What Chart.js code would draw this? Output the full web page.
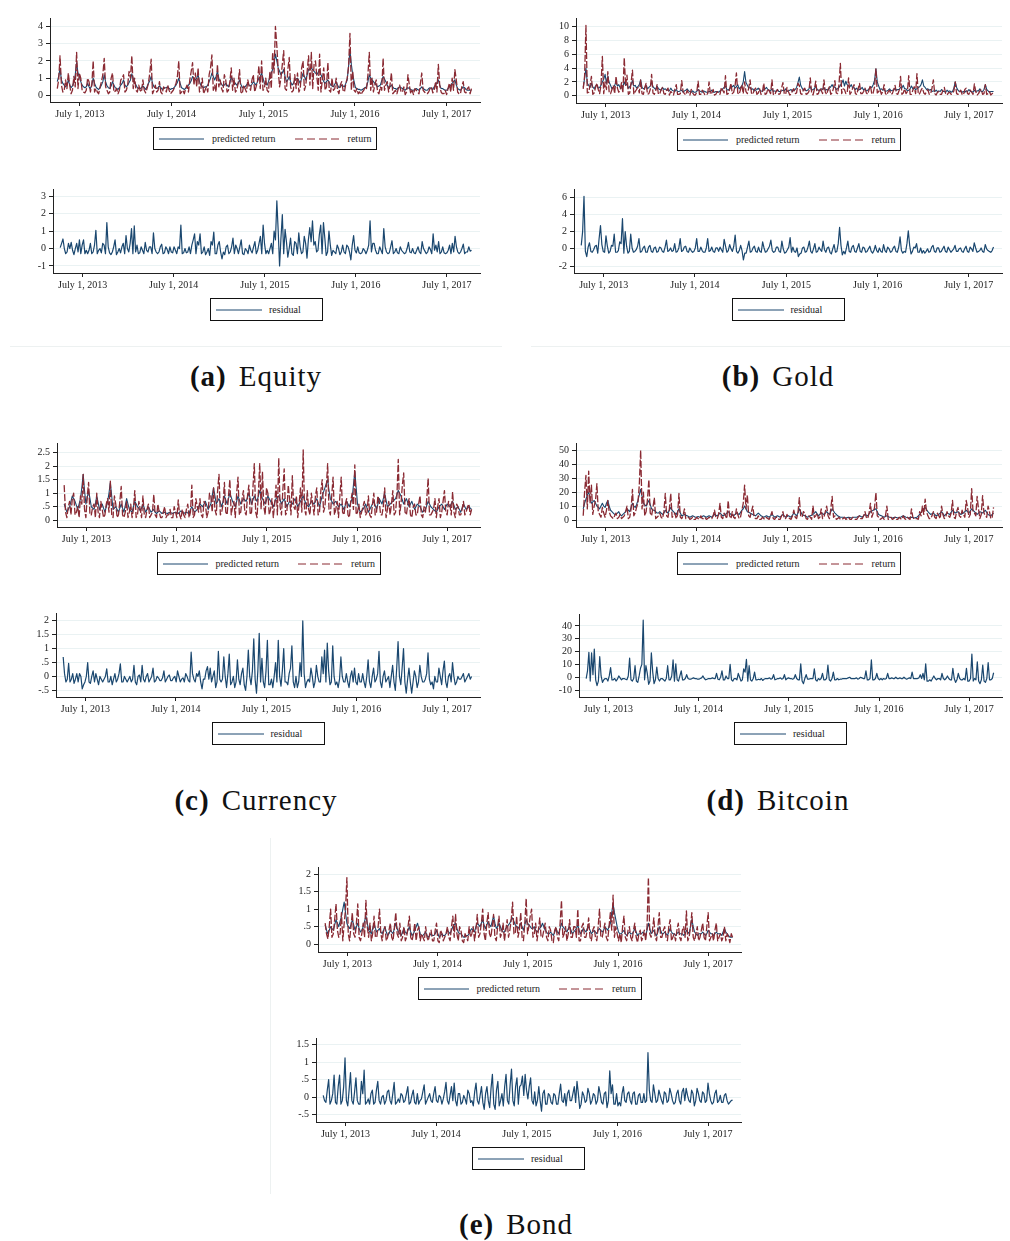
<!DOCTYPE html>
<html>
<head>
<meta charset="utf-8">
<script src="https://cdn.jsdelivr.net/npm/chart.js@4.4.1/dist/chart.umd.min.js"></script>
<style>
body{margin:0;background:#fff;width:1010px;height:1241px;position:relative;overflow:hidden;font-family:"Liberation Serif",serif;}
canvas{position:absolute;}
.lg{position:absolute;border:1px solid #111;box-sizing:border-box;display:flex;align-items:center;font-size:10px;color:#222;white-space:nowrap;background:#fff}
.lg svg{display:block}
.cap{position:absolute;width:300px;text-align:center;font-size:29px;line-height:34px;letter-spacing:1px;color:#111}
.cap b{margin-right:12px}
.sep{position:absolute;background:#edf1f1}
</style>
</head>
<body>
<div class="sep" style="left:10px;top:346px;width:492px;height:1px"></div>
<div class="sep" style="left:531px;top:346px;width:479px;height:1px"></div>
<div class="sep" style="left:270px;top:838px;width:1px;height:356px"></div>

<div class="cap" style="left:106px;top:359px"><b>(a)</b>Equity</div>
<div class="cap" style="left:628px;top:359px"><b>(b)</b>Gold</div>
<div class="cap" style="left:106px;top:783px"><b>(c)</b>Currency</div>
<div class="cap" style="left:628px;top:783px"><b>(d)</b>Bitcoin</div>
<div class="cap" style="left:366px;top:1207px"><b>(e)</b>Bond</div>

<script>
// sample dates: days since July 1, 2013; "Mid" arrays sit half a step after each main point
const dayStart = -90, dayStep = 11;
const xTickDays = [0, 365, 731, 1096, 1461];
const xTickLabels = ["July 1, 2013", "July 1, 2014", "July 1, 2015", "July 1, 2016", "July 1, 2017"];

// Equity
const eqPred = [0.8,1.55,0.7,0.5,0.9,0.45,0.75,1.9,1.1,0.6,
  0.45,0.7,0.4,1.0,0.5,0.35,0.6,1.2,0.55,0.4,
  0.8,0.45,0.35,0.6,0.9,0.5,0.75,1.25,0.8,0.45,
  0.4,0.55,0.35,0.7,1.1,0.5,0.4,0.55,0.35,0.45,
  0.5,0.35,0.4,0.6,1.0,0.45,0.35,0.5,0.7,1.1,
  0.9,1.2,0.6,0.45,0.5,0.8,1.3,0.9,1.4,0.8,
  0.55,0.7,0.5,1.1,0.8,0.6,0.9,0.45,0.5,0.7,
  0.55,0.8,0.6,1.0,1.3,0.7,0.6,1.1,1.5,2.4,
  1.6,1.2,1.5,0.8,1.1,0.6,0.9,1.0,0.7,1.3,
  0.9,1.5,1.6,1.4,1.2,1.5,1.0,0.7,0.9,0.6,
  0.5,0.8,0.45,0.6,0.5,0.9,2.6,1.2,0.45,0.35,
  0.3,0.4,0.5,1.2,0.9,0.7,0.5,0.6,1.1,0.8,
  0.45,0.6,0.4,0.35,0.5,0.4,0.3,0.45,0.35,0.3,
  0.4,0.3,0.5,0.35,0.3,0.45,0.35,0.6,0.9,0.4,
  0.35,0.3,0.5,0.7,0.9,0.4,0.3,0.5,0.35,0.3,0.3];
const eqPredMid = [1.1,0.9,0.6,0.6,0.6,0.55,1.2,1.3,0.8,0.5,
  0.5,0.5,0.6,0.7,0.4,0.45,0.8,0.8,0.45,0.55,
  0.6,0.4,0.45,0.7,0.6,0.6,0.9,1.0,0.6,0.4,
  0.45,0.45,0.5,0.85,0.7,0.45,0.45,0.45,0.4,0.45,
  0.4,0.4,0.5,0.75,0.7,0.4,0.4,0.6,0.85,1.0,
  1.0,0.8,0.5,0.5,0.6,1.0,1.1,1.1,1.0,0.65,
  0.6,0.6,0.7,0.9,0.7,0.7,0.65,0.5,0.6,0.6,
  0.65,0.7,0.8,1.1,1.0,0.65,0.8,1.3,1.9,2.0,
  1.4,1.3,1.1,0.9,0.8,0.7,0.95,0.85,1.0,1.1,
  1.2,1.55,1.5,1.3,1.35,1.2,0.8,0.8,0.75,0.55,
  0.65,0.6,0.5,0.55,0.7,1.7,1.8,0.8,0.4,0.35,
  0.35,0.45,0.8,1.0,0.8,0.6,0.55,0.85,0.95,0.6,
  0.5,0.5,0.4,0.45,0.45,0.35,0.4,0.4,0.3,0.35,
  0.35,0.4,0.4,0.3,0.4,0.4,0.5,0.75,0.6,0.4,
  0.3,0.4,0.6,0.8,0.6,0.35,0.4,0.45,0.3,0.3];
const eqRet = [0.4,2.3,0.2,0.9,1.3,0.1,1.1,2.5,1.3,0.3,
  0.15,1.0,0.2,2.0,0.4,0.1,0.8,2.15,0.3,0.2,
  1.3,0.25,0.1,0.9,1.2,0.3,1.4,2.3,1.0,0.2,
  0.3,0.9,0.15,0.7,2.1,0.3,0.2,0.8,0.1,0.4,
  0.6,0.1,0.3,0.7,2.0,0.2,0.1,0.6,0.9,1.9,
  1.3,1.6,0.4,0.1,0.5,1.2,2.35,0.6,1.8,0.9,
  0.2,0.9,0.3,1.6,1.0,0.3,1.5,0.1,0.4,0.9,
  0.3,1.2,0.5,1.7,2.0,0.4,0.3,1.4,2.5,4.0,
  1.5,1.0,2.6,0.3,2.2,0.2,1.2,1.3,0.4,2.0,
  0.6,2.3,2.5,1.8,1.1,2.4,0.9,0.3,1.9,0.2,
  0.3,1.0,0.1,0.8,0.2,1.0,3.6,1.4,0.2,0.1,
  0.05,0.3,0.4,2.5,1.0,0.6,0.2,0.5,2.15,0.6,
  0.2,1.3,0.2,0.1,0.6,0.2,0.05,1.2,0.1,0.05,
  0.3,0.1,1.3,0.2,0.1,0.4,0.15,0.8,1.8,0.2,
  0.1,0.05,0.7,1.0,1.5,0.2,0.1,0.8,0.15,0.5,0.4];
const eqRetMid = [0.9,0.6,0.3,0.4,0.6,0.3,0.5,0.4,1.0,0.2,
  0.3,0.8,0.6,0.2,0.2,0.5,1.2,0.5,0.1,1.0,
  0.2,0.4,0.3,1.0,0.2,0.6,1.0,0.4,0.3,0.6,
  0.2,0.3,0.4,1.3,0.1,0.6,0.3,0.2,0.5,0.2,
  0.3,0.2,0.5,1.1,0.1,0.3,0.4,0.2,1.4,0.6,
  0.5,0.2,1.0,0.3,0.2,1.6,0.3,0.2,0.5,0.4,
  1.2,0.2,0.8,0.3,0.2,0.7,0.2,0.6,0.2,0.5,
  0.9,0.2,0.8,0.4,0.3,1.0,0.2,0.4,1.3,2.9,
  0.5,1.8,0.4,1.5,0.5,0.3,0.4,0.2,1.6,0.3,
  1.4,0.6,0.4,2.0,0.3,0.2,1.6,0.5,0.3,1.0,
  0.4,0.3,0.6,0.3,0.7,1.7,0.3,0.3,0.4,0.2,
  0.2,0.5,1.2,0.3,0.2,0.9,0.1,0.3,0.3,0.8,
  0.6,0.1,0.3,0.4,0.2,0.5,0.2,0.6,0.3,0.4,
  0.2,0.7,0.3,0.1,0.2,0.5,0.3,0.2,0.6,0.1,
  0.3,0.4,0.2,0.3,0.9,0.1,0.5,0.2,0.4,0.1];
const eqRes = [0.05,0.55,-0.3,0.3,0.35,-0.35,0.3,0.5,0.2,-0.3,
  -0.3,0.3,-0.2,1.05,-0.1,-0.25,0.2,1.5,-0.25,-0.2,
  0.5,-0.2,-0.25,0.3,0.75,-0.2,1.15,1.3,0.2,-0.25,
  -0.1,0.35,-0.2,0.1,0.9,-0.2,-0.2,0.25,-0.25,-0.05,
  0.1,-0.25,-0.1,0.1,1.35,-0.25,-0.25,0.1,0.2,0.85,
  0.4,0.85,-0.2,-0.35,0.0,0.4,0.95,-0.3,0.4,-0.6,
  -0.35,0.2,-0.2,0.6,0.2,-0.3,0.5,-0.35,-0.1,0.2,
  -0.25,0.4,-0.1,0.7,1.35,-0.3,-0.3,0.3,1.0,2.75,
  -1.0,1.95,1.1,-0.5,0.6,-0.4,0.3,0.9,-0.3,0.7,
  -0.55,1.2,1.6,0.4,-0.1,1.35,1.5,-0.4,1.0,-0.4,
  -0.2,0.2,-0.35,0.2,-0.3,0.1,-0.65,0.75,-0.25,-0.25,
  -0.25,-0.1,-0.1,1.6,0.3,-0.1,-0.3,-0.1,1.15,-0.2,
  -0.25,0.45,-0.2,-0.25,0.1,-0.2,-0.25,0.35,-0.25,-0.25,
  -0.1,-0.2,0.4,-0.15,-0.2,-0.05,0.85,0.2,0.4,-0.2,
  -0.25,-0.25,0.2,0.3,0.7,-0.2,-0.2,0.25,-0.2,0.1,-0.1];
const eqResMid = [0.3,0.0,-0.2,0.0,-0.1,0.0,-0.2,-0.3,0.5,-0.1,
  -0.1,-0.3,0.2,-0.3,0.0,0.3,-0.3,0.1,-0.35,0.1,
  -0.35,0.0,0.1,-0.3,0.0,0.3,-0.3,-0.2,-0.3,0.1,
  -0.3,-0.1,0.1,-0.3,0.0,-0.3,0.1,-0.3,0.1,-0.3,
  -0.2,0.1,-0.3,0.0,-0.3,0.0,-0.2,-0.3,0.5,-0.3,
  0.2,-0.3,0.1,-0.2,-0.4,0.2,-0.3,0.2,-0.2,-0.2,
  0.1,-0.3,0.1,-0.3,0.0,0.1,-0.3,0.0,-0.3,-0.1,
  0.1,-0.3,0.3,-0.3,0.3,-0.1,0.0,-0.3,0.5,1.0,
  0.6,-0.3,0.4,0.0,-0.3,0.4,-0.3,0.1,-0.2,0.3,
  0.5,0.4,0.2,-0.2,0.8,-0.3,0.6,-0.2,0.2,-0.1,
  -0.3,0.0,-0.2,-0.2,0.2,-0.2,0.2,-0.1,0.1,-0.3,
  0.0,-0.3,0.2,-0.2,0.3,-0.3,0.1,-0.3,0.1,-0.3,
  0.1,-0.3,0.0,-0.3,-0.1,-0.3,0.0,-0.2,0.0,-0.3,
  0.1,-0.3,0.0,-0.3,0.1,-0.3,-0.1,-0.2,-0.3,0.1,
  -0.3,-0.1,-0.3,-0.2,0.1,-0.3,0.0,-0.3,-0.2,-0.15];

// Gold
const auPred = [1.2,4.0,1.5,1.8,1.0,1.6,1.2,2.0,3.1,2.8,
  1.5,1.2,2.0,1.6,1.1,2.0,1.7,1.3,2.2,1.5,
  1.3,2.3,1.0,1.5,1.2,2.0,1.1,1.4,0.9,1.2,
  1.0,0.8,1.1,0.7,0.9,0.6,0.8,0.7,1.0,0.6,
  0.7,0.5,0.9,0.6,0.7,0.5,0.6,0.8,0.5,0.6,
  0.7,1.0,1.4,0.8,1.2,1.5,1.3,1.0,1.4,3.5,
  1.5,1.2,1.0,0.8,1.1,0.7,0.9,1.2,0.8,1.0,
  0.7,0.9,0.6,0.8,1.0,0.7,0.9,0.8,1.2,2.7,
  1.1,0.9,0.8,1.3,0.9,1.4,0.8,1.0,1.2,0.9,
  1.1,1.6,1.3,1.0,1.5,2.3,2.1,1.4,1.6,1.2,
  1.1,0.9,1.2,1.0,0.8,1.3,1.6,3.9,1.4,1.0,
  0.9,0.7,1.0,0.8,1.1,0.9,1.2,1.5,1.0,0.8,
  1.4,1.1,1.0,1.3,2.3,1.2,1.0,0.9,0.7,0.8,
  0.7,0.9,0.6,0.8,0.7,0.6,2.0,0.8,0.7,0.6,
  0.7,0.9,0.6,0.8,0.7,1.0,0.6,1.6,0.7,0.6,0.6];
const auPredMid = [2.5,1.8,1.2,1.3,1.4,1.1,1.5,2.4,1.8,1.9,
  1.0,1.5,1.4,1.2,1.3,1.5,1.1,1.6,1.4,1.1,
  1.6,1.2,1.1,1.0,1.4,1.3,0.9,1.0,0.8,0.9,
  0.8,0.7,0.8,0.6,0.6,0.7,0.5,0.8,0.7,0.5,
  0.5,0.6,0.7,0.5,0.6,0.5,0.6,0.5,0.6,0.5,
  0.8,1.2,0.9,1.0,1.3,1.1,1.6,1.2,2.0,1.9,
  1.1,0.9,0.7,0.9,0.8,0.6,1.0,0.9,0.7,0.6,
  0.6,0.6,0.7,0.7,0.6,0.8,0.6,0.9,1.9,1.5,
  0.8,0.7,1.0,0.8,1.0,0.9,0.7,0.9,0.8,0.8,
  1.3,1.2,0.9,1.2,1.8,1.4,1.6,1.3,1.1,0.9,
  0.8,1.0,0.8,0.7,1.0,1.2,2.2,2.0,0.9,0.8,
  0.6,0.8,0.7,0.8,0.8,0.9,1.1,1.0,0.7,1.0,
  1.0,0.9,1.2,1.6,1.4,0.9,0.8,0.6,0.6,0.6,
  0.6,0.6,0.5,0.6,0.5,1.1,1.2,0.6,0.5,0.5,
  0.6,0.6,0.5,0.6,0.7,0.6,0.9,0.9,0.5,0.6];
const auRet = [1.0,10.2,0.5,2.8,0.4,1.8,0.3,5.7,2.0,3.5,
  0.3,1.5,2.8,0.5,1.9,5.5,3.0,0.4,3.7,0.6,
  1.2,2.3,0.2,1.8,0.3,3.1,0.2,1.6,0.3,1.2,
  0.2,1.1,0.6,0.1,1.6,0.2,2.2,0.3,0.8,0.1,
  0.4,0.1,2.1,0.2,0.5,0.1,2.0,0.4,0.1,0.6,
  0.2,0.8,2.9,0.3,1.8,0.5,3.3,0.2,1.6,2.0,
  0.3,2.3,0.2,1.1,0.4,0.2,1.8,0.3,0.7,2.3,
  0.1,0.9,0.3,1.9,0.2,0.6,0.2,1.0,0.4,1.5,
  0.2,1.1,0.3,2.6,0.1,2.1,0.3,0.8,2.3,0.2,
  1.3,0.4,2.2,0.3,4.7,1.0,0.3,2.6,0.5,1.6,
  0.2,1.8,0.3,1.1,0.2,1.5,0.4,3.9,0.6,0.2,
  1.6,0.1,0.8,0.3,1.5,0.2,2.8,0.4,0.3,2.9,
  0.2,1.3,3.2,0.3,1.1,0.2,0.9,0.3,2.3,0.1,
  0.6,0.2,1.2,0.1,0.5,0.3,2.0,0.2,0.8,0.1,
  1.1,0.2,0.5,1.7,0.1,0.7,0.2,1.6,0.3,0.1,0.5];
const auRetMid = [2.8,0.4,1.5,0.2,1.2,0.9,1.5,0.3,0.9,0.4,
  0.9,0.3,1.1,0.8,0.4,1.4,0.2,1.9,0.2,0.9,
  0.4,0.3,1.2,0.2,0.9,0.4,0.7,0.2,0.9,0.3,
  0.8,0.1,0.4,0.9,0.2,0.3,0.6,0.1,0.3,0.9,
  0.1,0.5,0.2,0.8,0.1,0.3,0.2,0.9,0.2,0.3,
  1.2,0.4,0.2,0.9,0.3,1.4,0.4,0.9,0.3,0.6,
  1.1,0.4,0.8,0.2,1.0,0.5,0.2,1.0,0.3,0.2,
  0.6,0.2,1.1,0.3,1.2,0.1,0.8,0.3,1.8,0.3,
  0.9,0.2,0.6,0.4,0.9,0.2,1.1,0.3,0.5,0.9,
  0.2,1.1,0.4,1.6,0.3,0.9,0.4,0.2,1.1,0.3,
  1.0,0.3,0.6,0.4,0.9,0.2,1.3,0.4,0.9,0.6,
  0.3,0.6,0.2,0.9,0.3,0.8,0.2,1.0,0.6,0.2,
  0.8,0.3,0.2,0.8,0.4,0.6,0.2,1.1,0.3,0.5,
  0.2,0.8,0.3,0.4,0.2,0.7,0.3,0.5,0.2,0.9,
  0.3,0.8,0.2,0.6,0.3,0.9,0.3,0.2,0.6,0.3];
const auRes = [0.4,6.1,-0.9,0.7,-0.4,0.3,-0.5,2.7,-0.3,1.5,
  -0.5,0.4,1.7,-0.4,0.8,3.5,2.0,-0.5,1.7,-0.4,
  -0.1,1.2,-0.3,0.3,-0.4,0.4,-0.4,0.2,-0.3,0.1,
  -0.4,1.0,-0.2,-0.3,0.6,-0.3,1.2,-0.2,0.3,-0.4,
  -0.2,-0.3,1.2,-0.3,-0.2,-0.4,1.2,-0.2,-0.3,0.1,
  -0.3,-0.1,1.1,-0.4,0.5,-0.3,1.6,-0.5,0.4,-1.3,
  -0.5,0.9,-0.3,0.3,-0.4,-0.3,0.8,-0.4,0.0,1.0,
  -0.4,0.2,-0.3,0.9,-0.5,-0.1,1.3,0.2,-0.4,-0.9,
  -0.5,0.2,-0.3,0.9,-0.5,0.6,-0.3,-0.1,0.9,-0.4,
  0.2,-0.6,0.5,-0.3,2.5,-0.7,-0.6,0.9,-0.4,0.4,
  -0.4,0.6,-0.4,0.1,-0.3,0.3,-0.5,0.4,-0.4,-0.3,
  0.5,-0.4,0.0,-0.3,0.3,-0.4,1.4,-0.5,-0.4,2.1,
  -0.6,0.2,0.6,-0.4,-0.5,-0.5,0.0,-0.3,0.4,-0.4,
  0.1,-0.3,0.3,-0.4,-0.1,-0.2,0.4,-0.3,0.1,-0.4,
  0.3,-0.4,0.0,0.7,-0.4,-0.2,-0.3,0.5,-0.2,-0.4,0.2];
const auResMid = [2.0,-0.3,0.2,-0.3,-0.1,0.4,1.2,0.5,-0.4,0.3,
  -0.3,0.3,-0.4,-0.2,0.6,-0.5,0.3,-0.3,0.1,-0.3,
  0.3,-0.4,0.1,-0.4,0.2,-0.3,0.1,-0.4,0.2,-0.3,
  0.2,-0.3,0.1,-0.2,-0.4,0.1,-0.3,0.2,-0.3,0.1,
  -0.4,0.1,-0.3,0.2,-0.4,0.1,-0.3,0.2,-0.4,0.1,
  0.2,-0.4,0.3,-0.2,0.0,0.3,-0.3,-0.2,-0.2,-0.5,
  0.2,-0.4,0.1,-0.3,0.2,-0.4,0.1,-0.3,0.3,-0.2,
  -0.3,0.2,-0.4,0.0,-0.4,0.2,-0.4,-0.3,0.1,-0.6,
  0.1,-0.4,0.2,-0.3,0.0,-0.4,0.2,-0.3,-0.1,0.1,
  -0.4,0.0,-0.4,0.6,0.4,-0.3,0.1,-0.3,0.2,-0.3,
  0.1,-0.3,0.2,-0.4,0.0,-0.3,-0.2,-0.2,0.1,-0.4,
  -0.2,0.2,-0.4,0.1,-0.3,0.2,-0.2,-0.3,0.6,0.4,
  -0.3,0.1,-0.4,0.1,-0.2,-0.3,-0.4,0.2,-0.3,0.1,
  -0.4,0.0,-0.3,0.2,-0.4,0.0,-0.3,0.0,-0.3,0.0,
  -0.3,0.2,-0.3,0.1,-0.3,0.1,-0.4,0.0,-0.3,-0.2];

// Currency
const fxPred = [0.6,0.3,0.5,0.9,0.7,0.4,0.8,1.7,0.6,1.1,
  0.5,0.4,0.9,0.4,0.6,0.3,0.7,1.4,0.4,0.5,
  0.3,0.6,0.3,0.8,0.4,0.3,0.7,0.5,0.35,0.6,
  0.3,0.5,0.3,0.4,0.25,0.35,0.25,0.3,0.25,0.3,
  0.25,0.3,0.25,0.35,0.25,0.3,0.25,0.5,0.3,0.4,
  0.6,0.5,0.7,0.4,0.6,1.2,0.6,0.8,0.5,0.9,
  0.6,1.0,0.7,0.5,0.9,0.6,0.8,0.7,1.0,0.6,
  0.9,0.7,1.1,0.8,0.6,0.9,0.7,0.5,0.8,0.9,
  0.6,0.8,0.5,0.7,0.6,0.8,0.5,0.7,0.9,0.6,
  0.5,0.7,0.6,0.8,0.5,0.9,1.2,1.5,0.8,0.6,
  0.7,0.5,0.6,0.4,0.7,0.5,0.8,1.8,0.6,0.3,
  0.4,0.6,0.3,0.5,0.7,0.4,0.8,0.6,1.0,0.5,
  0.6,0.7,0.8,1.1,0.9,0.6,0.8,0.5,0.7,0.4,
  0.6,0.5,0.3,0.4,0.7,0.5,0.4,0.3,0.5,0.6,
  0.4,0.6,0.5,0.7,0.4,0.5,0.3,0.6,0.4,0.5,0.4];
const fxPredMid = [0.45,0.4,0.7,0.8,0.55,0.6,1.2,1.1,0.85,0.8,
  0.45,0.6,0.65,0.5,0.45,0.5,1.0,0.9,0.45,0.4,
  0.45,0.45,0.55,0.6,0.35,0.5,0.6,0.45,0.45,0.45,
  0.4,0.4,0.35,0.3,0.3,0.3,0.28,0.27,0.28,0.27,
  0.28,0.27,0.3,0.3,0.28,0.27,0.4,0.4,0.35,0.5,
  0.55,0.6,0.55,0.5,0.9,0.9,0.7,0.65,0.7,0.75,
  0.8,0.85,0.6,0.7,0.75,0.7,0.75,0.85,0.8,0.75,
  0.8,0.9,0.95,0.7,0.75,0.8,0.6,0.65,0.85,0.75,
  0.7,0.65,0.6,0.65,0.7,0.65,0.6,0.8,0.75,0.55,
  0.6,0.65,0.7,0.65,0.7,1.05,1.35,1.1,0.7,0.65,
  0.6,0.55,0.5,0.55,0.6,0.65,1.3,1.2,0.45,0.35,
  0.5,0.45,0.4,0.6,0.55,0.6,0.7,0.8,0.75,0.55,
  0.65,0.75,0.95,1.0,0.75,0.7,0.65,0.6,0.55,0.5,
  0.55,0.4,0.35,0.55,0.6,0.45,0.35,0.4,0.55,0.5,
  0.5,0.55,0.6,0.55,0.45,0.4,0.45,0.5,0.45,0.45];
const fxRet = [1.3,0.1,0.7,0.8,0.2,0.5,0.9,1.7,0.1,1.4,
  0.2,0.6,1.0,0.1,0.4,0.2,0.8,1.45,0.1,0.6,
  0.2,1.25,0.1,0.7,0.3,0.1,1.1,0.2,0.4,0.9,
  0.1,0.6,0.2,0.95,0.1,0.3,0.1,0.5,0.2,0.4,
  0.1,0.3,0.75,0.05,0.2,0.4,0.1,1.3,0.2,0.5,
  0.8,0.1,0.6,0.3,0.9,1.2,0.2,1.7,0.3,1.4,
  0.2,1.5,0.5,0.1,1.6,0.3,1.1,0.2,1.3,0.3,
  2.1,0.1,2.1,1.8,0.2,1.0,0.4,0.1,1.3,2.3,
  0.2,1.9,0.3,0.8,1.65,0.4,0.1,1.2,2.6,0.2,
  0.4,1.0,0.2,1.2,0.3,1.5,0.5,2.1,0.2,1.6,
  0.4,0.1,1.6,0.2,0.8,0.1,1.0,2.05,0.3,0.1,
  0.5,0.2,0.9,0.1,1.0,0.3,0.7,0.2,1.2,0.4,
  0.2,1.1,0.3,2.25,0.6,1.75,0.2,0.8,0.1,0.6,
  0.2,0.9,0.1,0.3,1.55,0.2,0.4,0.1,0.8,0.3,
  1.1,0.2,0.6,1.05,0.1,0.5,0.2,0.7,0.3,0.6,0.4];
const fxRetMid = [0.3,0.5,0.2,1.0,0.3,0.1,0.6,0.4,0.9,0.2,
  0.5,0.1,0.3,0.7,0.1,0.6,0.3,0.2,0.9,0.1,
  0.7,0.2,0.3,0.1,0.6,0.4,0.1,0.7,0.1,0.2,
  0.4,0.1,0.3,0.2,0.6,0.1,0.3,0.1,0.2,0.1,
  0.5,0.1,0.2,0.4,0.1,0.6,0.3,0.1,0.8,0.3,
  0.2,0.7,0.1,1.0,0.3,0.4,1.1,0.2,0.6,0.3,
  0.9,0.2,0.7,1.0,0.2,0.8,0.3,0.9,0.2,1.2,
  0.3,1.0,0.4,0.5,1.2,0.2,0.8,0.6,0.2,0.5,
  1.1,0.2,1.3,0.2,0.5,0.9,0.6,0.3,0.4,1.1,
  0.2,0.6,0.9,0.2,1.1,0.3,1.2,0.4,0.9,0.2,
  0.7,0.9,0.3,0.6,0.2,0.7,0.4,0.2,0.6,0.3,
  0.7,0.3,0.2,0.6,0.2,0.9,0.2,0.5,0.1,0.7,
  0.6,0.2,0.9,0.2,1.3,0.3,0.6,0.2,0.5,0.2,
  0.6,0.2,0.5,0.8,0.2,0.3,0.8,0.5,0.1,0.7,
  0.3,0.7,0.2,0.3,0.6,0.2,0.4,0.2,0.5,0.2];
const fxRes = [0.7,-0.2,0.47,-0.1,-0.25,0.1,0.1,-0.45,-0.2,0.5,
  -0.25,0.2,0.1,-0.3,-0.1,-0.1,0.27,-0.2,-0.3,0.1,
  -0.1,0.45,-0.2,-0.1,-0.1,-0.2,0.4,-0.3,0.05,0.4,
  -0.2,0.1,-0.1,0.3,-0.15,-0.05,-0.15,0.2,-0.1,0.05,
  -0.15,0.0,0.2,-0.2,-0.05,0.1,-0.15,0.87,-0.1,0.1,
  0.2,-0.45,-0.1,0.35,0.3,0.0,-0.4,0.9,-0.2,0.7,
  -0.4,0.8,-0.2,-0.4,0.6,-0.3,0.3,-0.5,0.95,-0.3,
  1.35,-0.6,1.55,0.65,-0.4,1.3,-0.3,-0.4,0.5,1.3,
  -0.35,1.0,-0.2,0.1,1.1,-0.4,-0.4,0.5,2.0,-0.4,
  -0.1,0.3,-0.4,0.4,-0.2,0.7,0.95,1.2,-0.3,1.1,
  -0.3,-0.4,0.7,-0.2,0.1,-0.4,0.2,0.3,-0.3,-0.2,
  0.1,-0.4,0.6,-0.4,0.3,-0.1,0.9,-0.4,0.2,-0.1,
  -0.4,0.4,-0.5,1.25,-0.3,1.0,-0.6,0.3,-0.6,0.2,
  -0.4,0.4,-0.2,-0.1,0.85,-0.3,-0.45,-0.2,0.3,-0.3,
  0.55,-0.4,0.1,0.5,-0.3,0.0,-0.1,0.1,-0.1,0.1,0.0];
const fxResMid = [0.1,-0.1,-0.2,0.1,-0.1,-0.2,0.0,-0.3,0.0,-0.2,
  0.0,-0.2,-0.1,0.0,-0.2,0.0,-0.2,0.0,-0.1,-0.2,
  0.1,-0.2,0.0,-0.2,0.0,-0.1,-0.2,0.0,-0.2,-0.1,
  0.0,-0.2,0.0,-0.2,0.0,-0.15,-0.05,-0.2,0.0,-0.15,
  -0.05,-0.2,0.0,-0.1,-0.2,0.0,-0.2,0.1,-0.2,0.0,
  -0.2,-0.1,0.2,-0.1,-0.2,0.2,-0.2,-0.1,-0.1,0.0,
  0.1,-0.3,0.0,-0.2,-0.1,0.1,-0.3,0.0,0.0,0.2,
  -0.1,0.2,-0.2,-0.2,0.2,-0.3,-0.1,0.0,-0.2,0.0,
  0.2,-0.2,-0.3,0.3,-0.2,0.0,-0.2,0.0,0.1,-0.2,
  -0.2,0.0,-0.2,0.0,-0.2,0.1,-0.2,0.2,-0.2,0.0,
  -0.2,-0.1,0.0,-0.2,-0.2,0.0,-0.2,-0.2,0.1,-0.2,
  -0.2,0.0,-0.2,0.0,-0.2,0.1,-0.2,0.0,-0.2,0.0,
  0.0,-0.2,0.3,0.0,0.3,-0.2,-0.1,-0.2,-0.2,0.0,
  -0.2,0.0,-0.2,0.1,-0.1,-0.2,0.0,-0.2,0.0,0.2,
  -0.2,0.0,-0.2,0.0,-0.2,-0.1,0.0,-0.2,0.0,-0.1];

// Bitcoin
const btPred = [8,15,20,12,14,10,8,12,9,14,
  7,5,4,6,3,5,8,6,12,9,
  14,22,12,10,14,8,7,5,6,4,
  7,5,9,6,4,8,3,4,3,2,
  3,2,2.5,2,3,2,3,2,4,3,
  5,3,4,6,4,3,5,4,7,10,
  6,5,4,3,5,3,2,3,2,4,
  2,3,2,4,2,3,2,5,3,8,
  4,3,2,3,4,6,3,5,4,6,
  4,8,5,3,2,2,1.5,2,1.5,2,
  2,3,2,4,3,6,7,8,4,3,
  2,3,2,1.5,2,1.5,2,3,2,1.5,
  2,1.5,2,4,7,9,6,4,5,3,
  4,6,3,5,4,7,5,6,4,5,
  7,5,8,6,4,6,5,7,4,3,5];
const btPredMid = [12,18,16,13,12,9,10,10,12,10,
  6,4,5,4,4,6,7,9,10,11,
  18,17,11,12,11,7,6,5,5,5,
  6,7,7,5,6,5,3.5,3.5,2.5,2.5,
  2.5,2.2,2.2,2.5,2.5,2.5,2.5,3,3.5,4,
  4,3.5,5,5,3.5,4,4.5,5.5,8,8,
  5.5,4.5,3.5,4,4,2.5,2.5,2.5,3,3,
  2.5,2.5,3,3,2.5,2.5,3.5,4,5,6,
  3.5,2.5,2.5,3.5,5,4.5,4,4.5,5,5,
  6,6.5,4,2.5,2,1.8,1.8,1.8,1.8,2,
  2.5,2.5,3,3.5,4.5,6.5,7.5,6,3.5,2.5,
  2.5,2.5,1.8,1.8,1.8,1.8,2.5,2.5,1.8,1.8,
  1.8,1.8,3,5.5,8,7.5,5,4.5,4,3.5,
  5,4.5,4,4.5,5.5,6,5.5,5,4.5,6,
  6,6.5,7,5,5,5.5,6,5.5,3.5,4];
const btRet = [3,32,35,25,10,26,4,9,2,14,
  3,1,5,2,1,3,10,2,22,5,
  12,50,20,6,29,3,16,2,5,1,
  19,2,19,3,1,19,1,8,1,0.5,
  2,0.5,1,3,1,0.5,2,1,7,1,
  12,1,3,14,1,2,8,1,7,25,
  18,2,10,1,3,0.5,1,2,0.5,6,
  0.5,2,0.5,6,1,2,0.5,7,1,16,
  2,5,0.5,2,10,3,1,8,2,10,
  1,17,3,1,0.5,1,0.5,2,0.5,1,
  0.5,3,1,6,1,12,5,19.5,2,1,
  0.5,10,1,0.5,2,0.5,1,3,0.5,1,
  8,0.5,1,6,10,15,3,1,6,1,
  3,10,1,6,2,14,1,9,2,4,
  14,2,22.5,5,17,1,17.5,3,10,1,9];
const btRetMid = [20,8,12,4,14,6,2,5,7,6,
  2,3,1,4,2,6,1,8,3,9,
  25,8,3,15,5,9,1,3,2,6,
  3,8,2,5,4,2,3,1,2,1,
  0.5,2,0.5,1,2,1,1,3,2,4,
  2,5,1,3,6,1,4,2,12,8,
  3,6,2,1,0.5,2,0.5,1,3,1,
  2,0.5,3,1,4,1,3,2,5,3,
  6,1,3,0.5,2,5,2,1,6,3,
  8,2,0.5,2,0.5,2,1,0.5,2,0.5,
  2,1,3,2,5,2,9,3,0.5,2,
  3,0.5,2,1,0.5,2,0.5,1,2,0.5,
  2,1,0.5,3,4,6,1,3,2,5,
  1,4,2,3,5,2,6,3,7,2,
  9,4,6,3,8,4,5,2,6,2];
const btRes = [-1,19.5,19,22,-6.5,16,-4,-1,-3,7.5,
  -2,-3,1,-2,-1,-2,15,-3,9,-4,
  7,44.5,9,-5.5,19,-5,8,-3,-1,-3,
  9,-2,13.5,10.5,-3,5,-2,2,-1.5,-1,
  -1,-1.5,-1,1,-2,-1,-1,-1,3,-2,
  5,-2,-1,10,-3,-1,3,-3,6.5,14,
  9,-3,4,-2,-2,-2.5,-1,-1,-1.5,2,
  -1.5,-1,-1.5,2,-1,-1,-1.5,2,-2,10.5,
  -5,2,-1.5,-1,6.5,-3,-2,3,-2,9.5,
  -3,4,-2,-2,-1.5,-1,-1,0,-1,-1,
  -1.5,0,-1,5,-2,13.5,-2,3,-2,-2,
  -1.5,3,-1,-1,0,-1,-1,0,-1.5,-0.5,
  4,-1,-1,2,3,10.5,-3,-3,1,-2,
  -1,3,-2,1,-2,7,-4,3,-2,-1,
  7,-3,18,-1,12,-5,9.5,-4,11.5,-2,3.5];
const btResMid = [5,-3,2,-2,-3,1,-2,-1,1,-2,
  -1,-1.5,-0.5,-1,-1.5,1,-2,-1,-3,1,
  10,-2,3,-3,4,-2,-1,-1,-2,-1,
  -2,1,-3,-2,1,-2,-1,-1,-1.5,-0.5,
  -1,-1.5,-0.5,-1,-1.5,-1,-0.5,-1,-1.5,0,
  -2,1,-1,-2,-1,-2,0,-2,4,-3,
  -2,-1,-2,-1.5,-1,-1.5,-1,-0.5,-1,-2,
  -1,-0.5,-1,-2,-0.5,-1,-1,-1,-2,-3,
  -1,-1.5,-1,-1,-2,-1,-1,-2,-1,-2,
  -1,-2,-1,-1.5,-1,-1,-0.5,-1,-1,-0.5,
  -1,-0.5,-1,-2,-1,-2,-1,-1,-1,-1,
  -1,-1,-0.5,-1,-1,-0.5,-1,-1,-1,-1,
  -1,-1,-0.5,-1,-2,-3,-2,-1,-1,-1,
  -2,-1,-1,-1,-2,-1,-2,-1,-2,-2,
  -3,-1,-3,-2,-3,-2,-3,-1,-2,-1];

// Bond
const bdPred = [0.55,0.3,0.5,0.4,0.7,0.5,0.8,1.2,0.6,0.45,
  0.7,0.4,0.6,0.35,0.5,0.8,0.4,0.3,0.6,0.35,
  0.45,0.3,0.5,0.25,0.4,0.3,0.6,0.35,0.25,0.45,
  0.3,0.5,0.25,0.4,0.6,0.3,0.25,0.35,0.2,0.3,
  0.25,0.4,0.2,0.3,0.25,0.4,0.3,0.5,0.6,0.35,
  0.3,0.2,0.25,0.3,0.45,0.35,0.6,0.5,0.7,0.45,
  0.65,0.5,0.8,0.45,0.6,0.4,0.35,0.5,0.6,0.75,
  0.55,0.45,0.6,0.4,0.7,0.55,0.45,0.5,0.35,0.45,
  0.6,0.4,0.3,0.35,0.25,0.45,0.3,0.6,0.45,0.35,
  0.5,0.3,0.4,0.55,0.3,0.45,0.35,0.5,0.3,0.4,
  0.3,0.45,0.35,0.5,0.4,0.6,1.15,0.7,0.35,0.3,
  0.4,0.25,0.35,0.3,0.45,0.25,0.3,0.35,0.25,0.6,
  0.3,0.4,0.25,0.5,0.3,0.35,0.25,0.45,0.3,0.25,
  0.35,0.3,0.25,0.4,0.3,0.7,0.35,0.25,0.3,0.35,
  0.25,0.4,0.3,0.25,0.35,0.3,0.25,0.45,0.3,0.2,0.2];
const bdPredMid = [0.4,0.4,0.45,0.55,0.6,0.65,1.0,0.9,0.5,0.55,
  0.55,0.5,0.45,0.4,0.65,0.6,0.35,0.45,0.45,0.4,
  0.35,0.4,0.35,0.3,0.35,0.45,0.45,0.3,0.35,0.35,
  0.4,0.35,0.3,0.5,0.45,0.25,0.3,0.25,0.25,0.25,
  0.3,0.3,0.25,0.25,0.3,0.35,0.4,0.55,0.45,0.3,
  0.25,0.2,0.25,0.4,0.4,0.5,0.55,0.6,0.55,0.55,
  0.55,0.65,0.6,0.5,0.5,0.35,0.45,0.55,0.7,0.65,
  0.5,0.5,0.5,0.55,0.6,0.5,0.45,0.4,0.4,0.5,
  0.5,0.35,0.3,0.3,0.35,0.35,0.45,0.5,0.4,0.45,
  0.4,0.35,0.45,0.4,0.35,0.4,0.45,0.4,0.35,0.35,
  0.4,0.4,0.4,0.45,0.5,0.9,0.9,0.5,0.3,0.35,
  0.3,0.3,0.3,0.35,0.35,0.3,0.3,0.3,0.4,0.45,
  0.35,0.3,0.35,0.4,0.3,0.3,0.35,0.35,0.3,0.3,
  0.3,0.3,0.3,0.35,0.5,0.5,0.3,0.3,0.3,0.3,
  0.3,0.35,0.3,0.3,0.3,0.3,0.35,0.35,0.25,0.2];
const bdRet = [0.6,0.15,1.0,0.3,1.15,0.2,0.9,0.6,1.9,0.1,
  0.9,0.2,1.15,0.1,0.6,1.25,0.2,0.1,0.8,0.2,
  1.0,0.1,0.5,0.2,0.6,0.1,0.9,0.2,0.1,0.5,
  0.2,0.8,0.1,0.6,0.4,0.1,0.2,0.5,0.1,0.4,
  0.1,0.6,0.05,0.3,0.2,0.5,0.1,0.8,0.85,0.1,
  0.4,0.05,0.2,0.5,0.3,0.1,0.85,0.3,1.0,0.1,
  0.9,0.2,0.85,0.1,0.8,0.3,0.1,0.7,0.4,1.2,
  0.3,0.2,0.9,0.1,1.3,0.5,1.0,0.3,0.1,0.75,
  0.2,0.6,0.1,0.4,0.05,0.5,0.1,1.25,0.3,0.1,
  0.7,0.2,0.5,1.0,0.1,0.6,0.2,0.75,0.1,0.5,
  0.1,1.0,0.2,0.6,0.1,0.9,1.4,0.5,0.1,0.05,
  0.8,0.1,0.5,0.1,0.6,0.05,0.4,0.2,0.1,1.9,
  0.2,0.75,0.1,0.9,0.2,0.5,0.1,0.7,0.2,0.1,
  0.6,0.1,0.5,0.95,0.2,0.9,0.1,0.5,0.2,0.6,
  0.1,0.9,0.2,0.1,0.6,0.2,0.1,0.5,0.3,0.05,0.2];
const bdRetMid = [0.3,0.5,0.2,0.7,0.4,0.3,0.1,1.0,0.3,0.5,
  0.3,0.6,0.2,0.3,0.2,0.5,0.6,0.3,0.2,0.5,
  0.3,0.4,0.1,0.4,0.2,0.5,0.3,0.6,0.2,0.1,
  0.5,0.2,0.3,0.1,0.5,0.3,0.1,0.2,0.3,0.1,
  0.4,0.1,0.4,0.1,0.3,0.2,0.5,0.2,0.3,0.5,
  0.1,0.3,0.1,0.2,0.5,0.4,0.2,0.6,0.3,0.6,
  0.3,0.5,0.2,0.5,0.2,0.6,0.4,0.2,0.7,0.3,
  0.8,0.4,0.2,0.6,0.3,0.8,0.2,0.6,0.4,0.2,
  0.4,0.2,0.5,0.1,0.4,0.2,0.6,0.2,0.5,0.3,
  0.2,0.5,0.2,0.1,0.5,0.2,0.4,0.2,0.4,0.2,
  0.5,0.2,0.4,0.2,0.5,0.4,0.2,0.3,0.3,0.5,
  0.2,0.4,0.2,0.4,0.2,0.3,0.1,0.4,0.5,0.3,
  0.4,0.2,0.5,0.2,0.4,0.2,0.5,0.1,0.3,0.4,
  0.2,0.4,0.2,0.1,0.5,0.2,0.3,0.1,0.4,0.2,
  0.5,0.1,0.3,0.4,0.1,0.3,0.2,0.1,0.2,0.3];
const bdRes = [0.05,-0.15,0.5,-0.1,0.63,-0.2,0.63,-0.1,1.12,-0.25,
  0.7,-0.2,0.55,-0.2,0.45,0.77,-0.15,-0.2,0.2,-0.15,
  0.45,-0.2,0.05,-0.1,0.2,-0.2,0.42,-0.15,-0.15,0.05,
  -0.1,0.3,-0.15,0.2,-0.2,-0.2,-0.05,0.35,-0.1,0.1,
  -0.15,0.3,-0.15,0.0,-0.05,0.42,-0.2,0.3,0.4,-0.25,
  0.1,-0.15,-0.05,0.2,-0.15,-0.25,0.4,-0.2,0.3,-0.35,
  0.3,-0.3,0.65,-0.35,0.45,-0.1,-0.25,0.65,-0.2,0.8,
  -0.25,0.55,0.3,0.6,0.65,-0.05,0.55,-0.2,-0.25,0.3,
  -0.4,0.2,-0.2,0.05,-0.2,0.05,-0.2,0.37,-0.15,-0.25,
  0.2,-0.1,0.3,0.45,-0.32,0.15,-0.15,0.25,-0.2,0.1,
  -0.2,0.3,-0.15,0.1,-0.3,0.75,0.35,-0.2,-0.25,-0.25,
  0.3,-0.15,0.15,-0.2,0.15,-0.2,0.1,-0.15,-0.15,1.27,
  -0.1,0.35,-0.15,0.2,-0.1,0.15,-0.15,0.25,-0.1,-0.15,
  0.2,-0.2,0.25,0.25,-0.1,0.2,-0.25,0.25,-0.1,0.15,
  -0.15,0.4,-0.1,-0.15,0.2,-0.1,-0.15,0.05,-0.1,-0.15,-0.08];
const bdResMid = [-0.1,0.2,-0.2,0.1,-0.15,0.3,-0.2,0.3,-0.1,0.2,
  -0.1,0.15,-0.1,-0.2,0.1,-0.2,-0.05,0.1,-0.2,0.2,
  -0.1,0.0,-0.2,0.15,-0.1,0.1,-0.2,-0.05,0.1,-0.15,
  0.1,-0.2,0.05,-0.15,0.1,-0.1,0.15,-0.2,0.0,-0.1,
  0.1,-0.1,0.05,-0.2,0.15,-0.1,0.05,-0.1,-0.1,0.1,
  -0.2,0.05,-0.2,0.1,-0.1,0.15,-0.1,0.05,-0.15,0.1,
  -0.1,0.25,-0.2,0.2,-0.25,0.1,0.3,-0.1,0.35,-0.1,
  0.3,-0.2,0.35,0.05,0.2,0.3,-0.1,0.15,-0.1,-0.1,
  0.1,-0.2,0.1,-0.15,0.1,-0.2,0.1,-0.1,0.1,0.1,
  -0.1,0.1,-0.15,0.1,-0.2,0.05,-0.1,0.1,-0.1,0.05,
  -0.1,0.1,-0.2,0.15,-0.1,0.1,-0.2,0.1,-0.15,0.1,
  -0.1,0.1,-0.1,0.1,-0.2,0.05,-0.15,0.1,-0.1,0.2,
  -0.15,0.1,-0.1,0.05,-0.2,0.1,-0.1,0.1,-0.2,0.1,
  -0.1,0.15,-0.1,0.05,-0.15,0.1,-0.1,0.1,-0.15,0.1,
  -0.1,0.1,-0.2,0.1,-0.15,0.05,-0.15,0.1,-0.2,-0.1];

// y tick values and labels
const eqTopTicks = [0,1,2,3,4], eqTopLabels = ["0","1","2","3","4"];
const eqResTicks = [-1,0,1,2,3], eqResLabels = ["-1","0","1","2","3"];
const auTopTicks = [0,2,4,6,8,10], auTopLabels = ["0","2","4","6","8","10"];
const auResTicks = [-2,0,2,4,6], auResLabels = ["-2","0","2","4","6"];
const fxTopTicks = [0,0.5,1,1.5,2,2.5], fxTopLabels = ["0",".5","1","1.5","2","2.5"];
const fxResTicks = [-0.5,0,0.5,1,1.5,2], fxResLabels = ["-.5","0",".5","1","1.5","2"];
const btTopTicks = [0,10,20,30,40,50], btTopLabels = ["0","10","20","30","40","50"];
const btResTicks = [-10,0,10,20,30,40], btResLabels = ["-10","0","10","20","30","40"];
const bdTopTicks = [0,0.5,1,1.5,2], bdTopLabels = ["0",".5","1","1.5","2"];
const bdResTicks = [-0.5,0,0.5,1,1.5], bdResLabels = ["-.5","0",".5","1","1.5"];

const navy = "#1a476f";
const maroon = "#8a2a33";
const gridCol = "#eaf2f3";
const axisCol = "#222";
const tickFont = {family: "Liberation Serif", size: 10};

// merge a series and its half-step series into {x, y} points
function pts(vals, mids) {
    const out = [];
    vals.forEach((v, i) => {
        const x = dayStart + i * dayStep;
        out.push({x: x, y: v});
        if (i < mids.length) out.push({x: x + dayStep / 2, y: mids[i]});
    });
    return out;
}

function drawChart(box, yMin, yMax, yTicks, yLabels, datasets) {
    const padL = 40, padR = 8, padB = 30;
    const c = document.createElement("canvas");
    c.width = box.r - box.l + padL + padR;
    c.height = box.b - box.t + padB;
    c.style.left = (box.l - padL) + "px";
    c.style.top = box.t + "px";
    document.body.appendChild(c);
    new Chart(c, {
        type: "line",
        data: {datasets: datasets},
        options: {
            responsive: false,
            animation: false,
            events: [],
            layout: {padding: {left: 0, right: padR, top: 0, bottom: 0}, autoPadding: false},
            plugins: {legend: {display: false}, tooltip: {enabled: false}},
            scales: {
                x: {
                    type: "linear", min: -119, max: 1594,
                    afterFit: s => { s.height = padB; },
                    afterBuildTicks: s => { s.ticks = xTickDays.map(v => ({value: v})); },
                    ticks: {
                        callback: v => xTickLabels[xTickDays.indexOf(v)],
                        autoSkip: false, maxRotation: 0, padding: 2,
                        color: axisCol, font: tickFont
                    },
                    grid: {drawOnChartArea: false, tickLength: 4, tickColor: axisCol},
                    border: {color: axisCol, width: 1}
                },
                y: {
                    type: "linear", min: yMin, max: yMax,
                    afterFit: s => { s.width = padL; },
                    afterBuildTicks: s => { s.ticks = yTicks.map(v => ({value: v})); },
                    ticks: {
                        callback: v => yLabels[yTicks.indexOf(v)],
                        autoSkip: false, padding: 3,
                        color: axisCol, font: tickFont
                    },
                    grid: {color: gridCol, tickLength: 4, tickColor: axisCol},
                    border: {color: axisCol, width: 1}
                }
            }
        }
    });
}

function line(vals, mids, color, width, dash, order) {
    return {
        data: pts(vals, mids), borderColor: color, borderWidth: width, borderDash: dash,
        borderJoinStyle: "round", pointRadius: 0, tension: 0, fill: false, order: order
    };
}

function sample(color, dash, w) {
    return '<svg width="' + w + '" height="6"><line x1="0" y1="3" x2="' + w + '" y2="3" stroke="' +
        color + '" stroke-width="1" stroke-dasharray="' + dash + '"/></svg>';
}

function legend(box, two) {
    const w = two ? 224 : 113;
    const d = document.createElement("div");
    d.className = "lg";
    d.style.left = ((box.l + box.r) / 2 - w / 2) + "px";
    d.style.top = (box.b + 25) + "px";
    d.style.width = w + "px";
    d.style.height = "23px";
    if (two) {
        d.innerHTML = '<span style="margin-left:5px">' + sample(navy, "none", 45) + '</span>' +
            '<span style="margin-left:8px">predicted return</span>' +
            '<span style="margin-left:19px">' + sample(maroon, "8 4", 46) + '</span>' +
            '<span style="margin-left:7px">return</span>';
    } else {
        d.innerHTML = '<span style="margin-left:5px">' + sample(navy, "none", 46) + '</span>' +
            '<span style="margin-left:7px">residual</span>';
    }
    document.body.appendChild(d);
}

function pair(top, bottom, s, topRange, resRange, topTicks, topLabels, resTicks, resLabels) {
    drawChart(top, topRange[0], topRange[1], topTicks, topLabels,
        [line(s[2], s[3], maroon, 1.3, [7, 2], 0), line(s[0], s[1], navy, 1.1, [], 1)]);
    legend(top, true);
    drawChart(bottom, resRange[0], resRange[1], resTicks, resLabels,
        [line(s[4], s[5], navy, 1.2, [], 0)]);
    legend(bottom, false);
}

pair({l: 50, r: 480, t: 9, b: 102}, {l: 53, r: 480, t: 180, b: 273},
    [eqPred, eqPredMid, eqRet, eqRetMid, eqRes, eqResMid],
    [-0.38, 4.49], [-1.41, 3.43], eqTopTicks, eqTopLabels, eqResTicks, eqResLabels);
pair({l: 576, r: 1002, t: 9, b: 103}, {l: 574, r: 1002, t: 180, b: 273},
    [auPred, auPredMid, auRet, auRetMid, auRes, auResMid],
    [-1.06, 11.28], [-2.81, 6.95], auTopTicks, auTopLabels, auResTicks, auResLabels);
pair({l: 57, r: 480, t: 434, b: 527}, {l: 56, r: 480, t: 604, b: 697},
    [fxPred, fxPredMid, fxRet, fxRetMid, fxRes, fxResMid],
    [-0.25, 2.86], [-0.74, 2.28], fxTopTicks, fxTopLabels, fxResTicks, fxResLabels);
pair({l: 576, r: 1002, t: 434, b: 527}, {l: 579, r: 1002, t: 605, b: 697},
    [btPred, btPredMid, btRet, btRetMid, btRes, btResMid],
    [-5.0, 55.2], [-15.4, 49.3], btTopTicks, btTopLabels, btResTicks, btResLabels);
pair({l: 318, r: 741, t: 858, b: 952}, {l: 316, r: 741, t: 1029, b: 1122},
    [bdPred, bdPredMid, bdRet, bdRetMid, bdRes, bdResMid],
    [-0.22, 2.2], [-0.71, 1.69], bdTopTicks, bdTopLabels, bdResTicks, bdResLabels);
</script>
</body>
</html>
